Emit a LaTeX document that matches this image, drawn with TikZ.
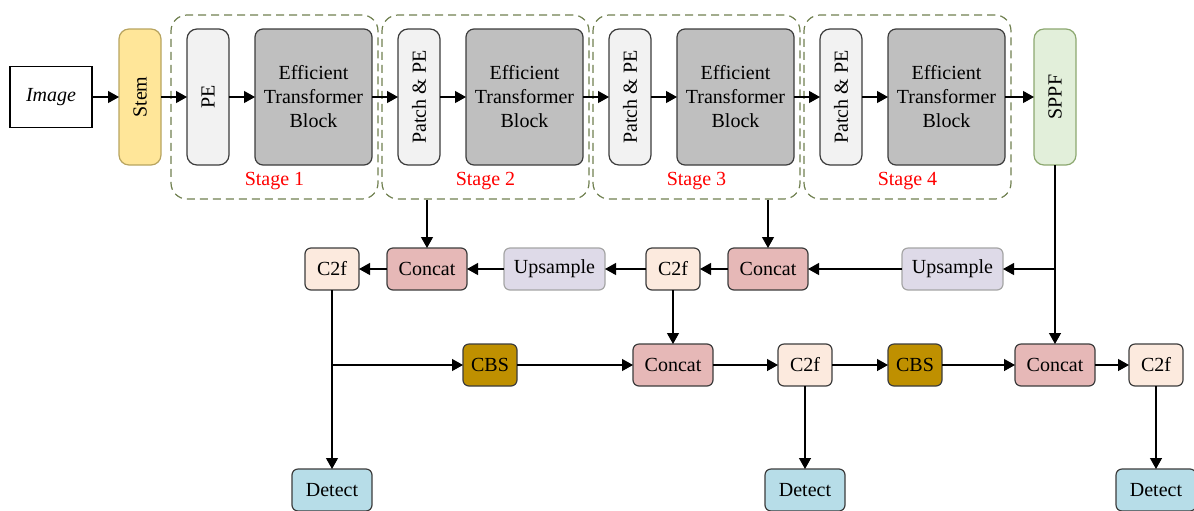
\documentclass[tikz,border=0pt]{standalone}
\usepackage{fontspec}
\setmainfont{Liberation Serif}
\usepackage{xcolor}
\usepackage{graphicx}
\usetikzlibrary{arrows.meta,positioning,calc,fit}
\definecolor{amarillo}{RGB}{255,230,153}
\definecolor{ocrec}{RGB}{184,164,96}
\definecolor{gris}{RGB}{242,242,242}
\definecolor{grismed}{RGB}{191,191,191}
\definecolor{grisosc}{RGB}{60,60,60}
\definecolor{grisc}{RGB}{165,165,165}
\definecolor{verdec}{RGB}{226,239,218}
\definecolor{verdeb}{RGB}{140,168,112}
\definecolor{melon}{RGB}{252,234,222}
\definecolor{rosa}{RGB}{230,184,183}
\definecolor{lila}{RGB}{222,218,232}
\definecolor{ocre}{RGB}{191,144,0}
\definecolor{celeste}{RGB}{183,221,232}
\definecolor{oliva}{RGB}{112,128,80}

\begin{document}
\begin{tikzpicture}[x=0.5pt,y=-0.5pt,
bloque/.style={draw=grisosc,line width=0.6pt,align=center,inner sep=1pt,outer sep=0pt},
alto/.style={bloque,rounded corners=5pt,minimum width=21pt,minimum height=68pt},
stembox/.style={alto,fill=amarillo,draw=ocrec},
pebox/.style={alto,fill=gris},
etbbox/.style={bloque,rounded corners=4pt,fill=grismed,minimum width=58.5pt,minimum height=68pt},
sppfbox/.style={alto,fill=verdec,draw=verdeb},
chico/.style={bloque,rounded corners=3pt,minimum height=21pt},
c2fbox/.style={chico,fill=melon,minimum width=27pt},
catbox/.style={chico,fill=rosa,minimum width=40pt},
upbox/.style={chico,fill=lila,draw=grisc,minimum width=50.5pt},
cbsbox/.style={chico,fill=ocre,minimum width=27pt},
detbox/.style={chico,fill=celeste,minimum width=40pt},
stagebox/.style={draw=oliva,line width=0.6pt,dash pattern=on 4pt off 2.5pt,rounded corners=8pt,inner xsep=3pt,inner ysep=7pt},
stagelbl/.style={text=red},
arr/.style={-{Triangle[length=5.5pt,width=6pt]},line width=0.6pt}
]
\useasboundingbox (0,0) rectangle (1194,510);

% backbone
\node[draw,line width=0.6pt,outer sep=0pt,minimum width=41pt,minimum height=30.5pt,font=\itshape] (img) at (51,97) {Image};
\node[stembox,right=13.5pt of img] (stem) {\rotatebox{90}{Stem}};
\node[pebox,right=13pt of stem] (pe1) {\rotatebox{90}{PE}};
\node[etbbox,right=13pt of pe1] (etb1) {Efficient\\Transformer\\Block};
\node[pebox,right=13pt of etb1] (pp2) {\rotatebox{90}{Patch \& PE}};
\node[etbbox,right=13pt of pp2] (etb2) {Efficient\\Transformer\\Block};
\node[pebox,right=13pt of etb2] (pp3) {\rotatebox{90}{Patch \& PE}};
\node[etbbox,right=13pt of pp3] (etb3) {Efficient\\Transformer\\Block};
\node[pebox,right=13pt of etb3] (pp4) {\rotatebox{90}{Patch \& PE}};
\node[etbbox,right=13pt of pp4] (etb4) {Efficient\\Transformer\\Block};
\node[sppfbox,right=14.5pt of etb4] (sppf) {\rotatebox{90}{SPPF}};

\node[stagebox,fit={([xshift=-5pt]pe1.north west) ([yshift=-10pt]etb1.south east)}] (stage1) {};
\node[stagebox,fit={([xshift=-5pt]pp2.north west) ([yshift=-10pt]etb2.south east)}] (stage2) {};
\node[stagebox,fit={([xshift=-5pt]pp3.north west) ([yshift=-10pt]etb3.south east)}] (stage3) {};
\node[stagebox,fit={([xshift=-5pt]pp4.north west) ([yshift=-10pt]etb4.south east)}] (stage4) {};
\node[stagelbl] at ([yshift=9.5pt]stage1.south) {Stage 1};
\node[stagelbl] at ([yshift=9.5pt]stage2.south) {Stage 2};
\node[stagelbl] at ([yshift=9.5pt]stage3.south) {Stage 3};
\node[stagelbl] at ([yshift=9.5pt]stage4.south) {Stage 4};

% neck, top row
\node[c2fbox] (c2fa) at (332,269) {C2f};
\node[catbox,right=14pt of c2fa] (cata) {Concat};
\node[upbox,right=18.5pt of cata] (upa) {Upsample};
\node[c2fbox,right=20.5pt of upa] (c2fb) {C2f};
\node[catbox,right=14pt of c2fb] (catb) {Concat};
\node[upbox,right=47pt of catb] (upb) {Upsample};

% neck, bottom row
\node[catbox,below=27pt of c2fb] (catc) {Concat};
\node[cbsbox,left=58pt of catc] (cbsa) {CBS};
\node[c2fbox,right=32.5pt of catc] (c2fc) {C2f};
\node[cbsbox,right=28pt of c2fc] (cbsb) {CBS};
\node[catbox,below=89.5pt of sppf] (catd) {Concat};
\node[c2fbox,right=17pt of catd] (c2fd) {C2f};

% heads
\node[detbox,below=89.5pt of c2fa] (deta) {Detect};
\node[detbox,below=41.5pt of c2fc] (detb) {Detect};
\node[detbox,below=41.5pt of c2fd] (detc) {Detect};

\draw[arr] (img) -- (stem);
\draw[arr] (stem) -- (pe1);
\draw[arr] (pe1) -- (etb1);
\draw[arr] (etb1) -- (pp2);
\draw[arr] (pp2) -- (etb2);
\draw[arr] (etb2) -- (pp3);
\draw[arr] (pp3) -- (etb3);
\draw[arr] (etb3) -- (pp4);
\draw[arr] (pp4) -- (etb4);
\draw[arr] (etb4) -- (sppf);

\draw[arr] (cata |- stage2.south) -- (cata);
\draw[arr] (catb |- stage3.south) -- (catb);
\draw[arr] (sppf) -- (catd);
\draw[arr] (sppf |- upb) -- (upb);
\draw[arr] (upb) -- (catb);
\draw[arr] (catb) -- (c2fb);
\draw[arr] (c2fb) -- (upa);
\draw[arr] (upa) -- (cata);
\draw[arr] (cata) -- (c2fa);

\draw[arr] (c2fa |- cbsa) -- (cbsa);
\draw[arr] (cbsa) -- (catc);
\draw[arr] (c2fb) -- (catc);
\draw[arr] (catc) -- (c2fc);
\draw[arr] (c2fc) -- (cbsb);
\draw[arr] (cbsb) -- (catd);
\draw[arr] (catd) -- (c2fd);

\draw[arr] (c2fa) -- (deta);
\draw[arr] (c2fc) -- (detb);
\draw[arr] (c2fd) -- (detc);
\end{tikzpicture}
\end{document}
